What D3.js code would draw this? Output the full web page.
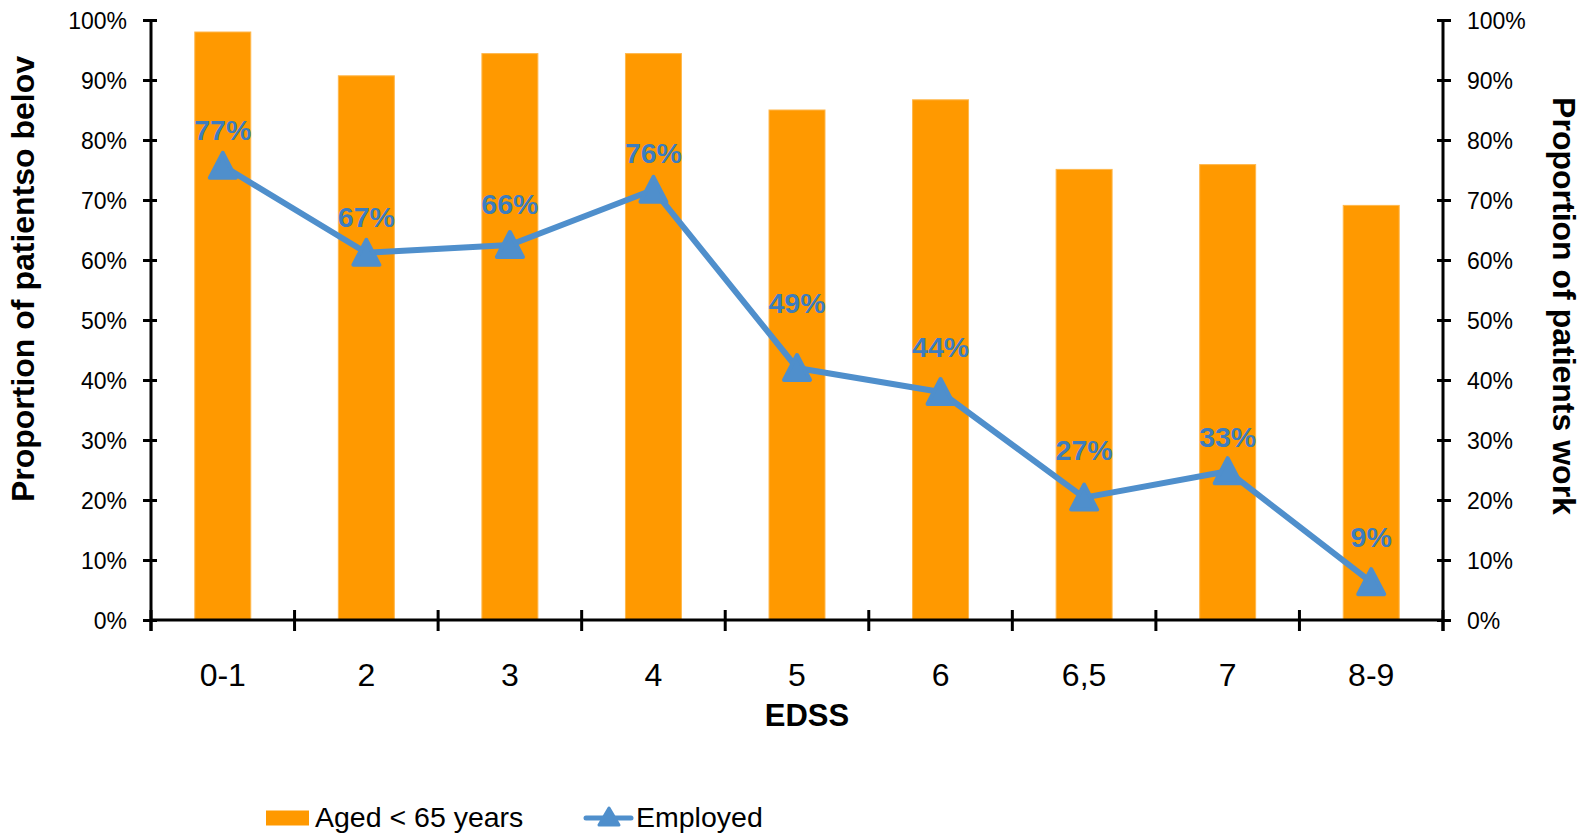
<!DOCTYPE html>
<html>
<head>
<meta charset="utf-8">
<script src="https://cdn.jsdelivr.net/npm/d3@7"></script>
<style>
  html, body { margin: 0; padding: 0; background: #fff; }
  svg { display: block; font-family: "Liberation Sans", Arial, sans-serif; }
</style>
</head>
<body>
<svg id="chart" width="1581" height="835"></svg>
<script>
// ---- Data ----
const categories = ["0-1", "2", "3", "4", "5", "6", "6,5", "7", "8-9"];
const agedUnder65 = [98.0, 90.7, 94.4, 94.4, 85.0, 86.7, 75.1, 75.9, 69.1];
const employed = [75.7, 61.2, 62.5, 71.7, 42.0, 38.0, 20.4, 24.8, 6.3];
const employedLabels = ["77%", "67%", "66%", "76%", "49%", "44%", "27%", "33%", "9%"];
const employedLabelAnchor = [80.0, 65.5, 67.7, 76.1, 51.1, 43.8, 26.7, 28.9, 12.2];
const yTicks = [0, 10, 20, 30, 40, 50, 60, 70, 80, 90, 100];
const seriesNames = ["Aged < 65 years", "Employed"];
const leftTitle = "Proportion of patientso belov";
const rightTitle = "Proportion of patients work";
const xTitle = "EDSS";

(function () {
// ---- Layout ----
const ORANGE = "#FF9900";
const BLUE = "#4F8FCC";
const LABEL_BLUE = "#3C7DBF";
const pL = 151, pR = 1443, pT = 20, pB = 620;

const svg = d3.select("#chart");

const x = d3.scaleBand().domain(categories).range([pL, pR]).padding(0);
const yL = d3.scaleLinear().domain([0, 100]).range([pB, pT]);
const yR = d3.scaleLinear().domain([0, 100]).range([pB, pT]);

const barW = x.bandwidth() * 0.39;

// Bars
svg.append("g").selectAll("rect").data(agedUnder65).join("rect")
  .attr("x", (d, i) => x(categories[i]) + x.bandwidth() / 2 - barW / 2)
  .attr("y", d => yL(d))
  .attr("width", barW)
  .attr("height", d => yL(0) - yL(d))
  .attr("fill", ORANGE)
  .attr("stroke", "#FFB84D")
  .attr("stroke-width", 1);

// Axes
const fmt = d => d + "%";
const axL = svg.append("g").attr("transform", `translate(${pL},0)`)
  .call(d3.axisLeft(yL).tickValues(yTicks).tickFormat(fmt).tickSizeInner(8).tickSizeOuter(0).tickPadding(16));
const axR = svg.append("g").attr("transform", `translate(${pR},0)`)
  .call(d3.axisRight(yR).tickValues(yTicks).tickFormat(fmt).tickSizeInner(8).tickSizeOuter(0).tickPadding(16));
[axL, axR].forEach(ax => {
  ax.select(".domain").attr("stroke", "#000").attr("stroke-width", 3);
  ax.selectAll(".tick line").attr("stroke", "#000").attr("stroke-width", 3);
  ax.selectAll(".tick text").attr("font-size", 23).attr("fill", "#000")
    .attr("font-family", "Liberation Sans, Arial, sans-serif").attr("dy", "0.36em");
});
axL.selectAll(".tick line").attr("x1", 6);
axR.selectAll(".tick line").attr("x1", -6);
axL.select(".domain").attr("d", `M0,${pT}V${pB + 11}`);
axR.select(".domain").attr("d", `M0,${pT}V${pB + 11}`);

// X axis
const boundaries = categories.map(c => x(c)).concat([pR]);
const axB = svg.append("g");
axB.append("line").attr("x1", pL).attr("x2", pR).attr("y1", pB).attr("y2", pB)
  .attr("stroke", "#000").attr("stroke-width", 3);
axB.selectAll("line.tk").data(boundaries).join("line").attr("class", "tk")
  .attr("x1", d => d).attr("x2", d => d).attr("y1", pB - 10).attr("y2", pB + 11)
  .attr("stroke", "#000").attr("stroke-width", 3);
axB.selectAll("text").data(categories).join("text")
  .attr("x", d => x(d) + x.bandwidth() / 2)
  .attr("y", 686)
  .attr("text-anchor", "middle")
  .attr("font-size", 32)
  .attr("fill", "#000")
  .text(d => d);

// Line
const cx = (i) => x(categories[i]) + x.bandwidth() / 2;
const line = d3.line().x((d, i) => cx(i)).y(d => yR(d));
svg.append("path").datum(employed)
  .attr("d", line)
  .attr("fill", "none")
  .attr("stroke", BLUE)
  .attr("stroke-width", 6)
  .attr("stroke-linejoin", "round");

const tri = "M0,-13L13,12L-13,12Z";
svg.append("g").selectAll("path").data(employed).join("path")
  .attr("d", tri)
  .attr("transform", (d, i) => `translate(${cx(i)},${yR(d)})`)
  .attr("fill", BLUE)
  .attr("stroke", BLUE)
  .attr("stroke-width", 4)
  .attr("stroke-linejoin", "round");

// Data labels
svg.append("g").selectAll("text").data(employedLabels).join("text")
  .attr("x", (d, i) => cx(i))
  .attr("y", (d, i) => yR(employedLabelAnchor[i]))
  .attr("text-anchor", "middle")
  .attr("font-size", 28.5)
  .attr("font-weight", "bold")
  .attr("fill", LABEL_BLUE)
  .text(d => d);

// Titles
svg.append("text").attr("transform", "translate(34,279) rotate(-90)")
  .attr("text-anchor", "middle").attr("font-size", 32).attr("font-weight", "bold").text(leftTitle);
svg.append("text").attr("transform", "translate(1553,306) rotate(90)")
  .attr("text-anchor", "middle").attr("font-size", 32).attr("font-weight", "bold").text(rightTitle);
svg.append("text").attr("x", 807).attr("y", 726)
  .attr("text-anchor", "middle").attr("font-size", 31).attr("font-weight", "bold").text(xTitle);

// Legend
const lg = svg.append("g");
lg.append("rect").attr("x", 266).attr("y", 810.5).attr("width", 43).attr("height", 15).attr("fill", ORANGE);
lg.append("text").attr("x", 315).attr("y", 827).attr("font-size", 28.5).text(seriesNames[0]);
lg.append("line").attr("x1", 586).attr("x2", 631).attr("y1", 818).attr("y2", 818)
  .attr("stroke", BLUE).attr("stroke-width", 5).attr("stroke-linecap", "round");
lg.append("path").attr("d", "M0,-9L10,8L-10,8Z").attr("transform", "translate(609,817)")
  .attr("fill", BLUE).attr("stroke", BLUE).attr("stroke-width", 3).attr("stroke-linejoin", "round");
lg.append("text").attr("x", 636).attr("y", 827).attr("font-size", 28.5).text(seriesNames[1]);
})();
</script>
</body>
</html>
